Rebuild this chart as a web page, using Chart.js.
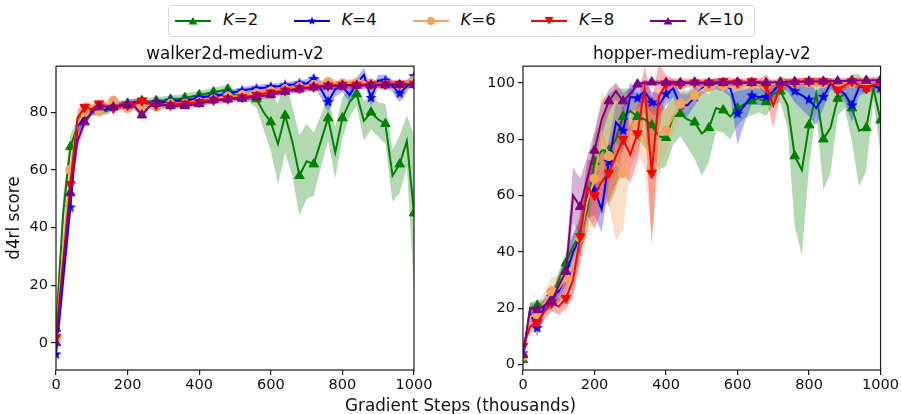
<!DOCTYPE html>
<html>
<head>
<meta charset="utf-8">
<script src="https://cdn.jsdelivr.net/npm/chart.js@4.4.0/dist/chart.umd.min.js"></script>
<style>
body { margin: 0; background: #fff; font-family: "DejaVu Sans", sans-serif; color: #111; }
#wrap { position: relative; width: 901px; height: 414px; overflow: hidden; }
canvas { position: absolute; top: 0; }
#c1 { left: 0; }
#c2 { left: 450px; }
#legend { position: absolute; left: 168px; top: 5px; width: 587px; height: 32px; border: 1px solid #d6d6d6; border-radius: 3px; box-sizing: border-box; background: #fff; }
.item { position: absolute; top: 0; height: 30px; }
.item svg { position: absolute; left: 0; top: 7.7px; }
.item span { position: absolute; left: 48px; top: 6px; font-size: 16.5px; line-height: 16.5px; white-space: nowrap; }
#xlabel { position: absolute; left: 0; width: 921px; top: 397px; text-align: center; font-size: 16.8px; line-height: 16.8px; }
</style>
</head>
<body>
<div id="wrap">
  <canvas id="c1" width="450" height="414"></canvas>
  <canvas id="c2" width="451" height="414"></canvas>
  <div id="legend"></div>
  <div id="xlabel">Gradient Steps (thousands)</div>
</div>
<script>
// gradient steps (thousands)
var steps = [0,20,40,60,80,100,120,140,160,180,200,220,240,260,280,300,320,340,360,380,400,420,440,460,480,500,520,540,560,580,600,620,640,660,680,700,720,740,760,780,800,820,840,860,880,900,920,940,960,980,1000];
var seriesNames = ['K=2', 'K=4', 'K=6', 'K=8', 'K=10'];
var xTicks = [0, 200, 400, 600, 800, 1000];
var yTicks = [0, 20, 40, 60, 80, 100];

// walker2d-medium-v2 : mean and spread
var wK2 = [5,45,68,75,79,80.5,81,80.5,82,82.5,83,83,84,83.5,84,84,84.5,84.5,85,85.5,86,86.5,87,87.5,88,86,85.5,85.5,84.6,80,76.6,69,78.9,70,58,63,62,70,78,66,78,83.5,86.3,77,80,77.5,76,58,62,70,45];
var wK2sd = [3,6,4,3,2,1.5,1.5,1.5,1.5,1.5,1.5,1.5,1.5,1.5,1.5,1.5,1.5,1.5,1.5,1.5,1.5,1.5,1.5,1.5,1.5,1.5,2,2,3,6,10,14,13,12,14,13,11,9,8,9,7,5,4,7,6,6,7,9,10,9,27];
var wK4 = [-4,22,47,75,79,80,80.5,81,82,82.5,83,83.5,83.5,83,83.5,83.5,84,84,84,84.5,85,85.5,85.5,86,86.5,87,87.5,88,88.2,88.5,88.8,89,89.3,89.6,90,90,91.5,88,83.6,88,89,86,90,93,85,91,91,89,86.5,89,92.5];
var wK4sd = [3,5,4,3,2,1.2,1.2,1.2,1.2,1.2,1.2,1.2,1.2,1.2,1.2,1.2,1.2,1.2,1.2,1.2,1.2,1.2,1.2,1.2,1.2,1.2,1.2,1.2,1.2,1.2,1.2,1.2,1.2,1.2,1.2,1.5,2,3,3.5,2.5,2,2.5,2,2.5,3,2,2,2,3,2,1.5];
var wK6 = [2,33,60,76,80,82,80.5,82,84,82,81.5,82,81.5,82.5,82,82.5,83,82.5,83,83.5,83.5,84,84.5,85,85.5,85.5,86,86.3,86.6,87,87.3,87.6,88,88.3,88.7,89,89.5,90,90.5,90.3,90,90.5,90.2,90.5,90,90,89.5,89.8,89.5,90,91];
var wK6sd = [3,5,4,3,2,2,2.5,2,2,2,1.5,1.5,1.5,1.2,1.2,1.2,1.2,1.2,1.2,1.2,1.2,1.2,1.2,1.2,1.2,1.2,1.2,1.2,1.2,1.2,1.2,1.2,1.2,1.2,1.2,1.2,1.2,1.2,1.2,1.2,1.2,1.2,1.2,1.2,1.2,1.2,1.2,1.2,1.2,1.2,1.2];
var wK8 = [2,28,55,78,81.8,81,83,82,81.5,82,82.5,83,84,83,82.5,82.5,82.5,82.8,83,83.3,83.5,84,84.3,84.5,84.7,85,85.2,85.5,86,86.5,86.8,87.2,87.5,88,88.3,88.6,88.8,89,89.2,89.3,89.4,89.5,89.5,89.6,89.6,89.7,89.7,89.8,89.8,89.8,89.8];
var wK8sd = [3,5,4,3,2,1.5,1.2,1.2,1.2,1.2,1.2,1.2,1.2,1.2,1.2,1.2,1.2,1.2,1.2,1.2,1.2,1.2,1.2,1.2,1.2,1.2,1.2,1.2,1.2,1.2,1.2,1.2,1.2,1.2,1.2,1.5,1.5,1.5,1.5,1.5,1.5,1.5,1.5,1.5,1.5,1.5,1.5,1.5,1.5,1.5,1.5];
var wK10 = [0,26,52,70,76.6,80,81.8,82,81.8,82.5,82.4,82,79,82,83,82.5,82.2,82.3,82.2,82.6,83,83.6,84.2,84.3,84.5,84.7,84.8,85.1,85.4,85.7,86,86.6,87.2,87.6,88,88.3,88.7,88.9,89,89.2,89.3,89.3,89.3,89.3,89.4,89.4,89.4,89.5,89.5,89.5,89.5];
var wK10sd = [3,5,4,3,2,1,1,1,1,1,1,1,1.5,1,1,1,1,1,1,1,1,1,1,1,1,1,1,1,1,1,1,1,1,1,1,1,1,1,1,1,1,1,1,1,1,1,1,1,1,1,1];

// hopper-medium-replay-v2 : mean and spread
var hK2 = [1.7,20,21,21,22,30,36,42,46,55,72,76,76,80,88,90,88,87,85,81,80.5,88,89,87,86,82,84,91,90.3,88,91,92.5,93.5,94.5,93.2,96,97,92,74,69,85,96,80,84,94.4,96,91,83,84,98,86.7];
var hK2sd = [2,2,2,2,2,3,4,5,6,8,10,10,20,18,10,8,8,10,10,12,10,10,8,10,13,15,12,8,8,8,6,5,5,5,5,4,4,8,25,30,15,6,18,16,6,5,12,20,15,4,12];
var hK4 = [4,18,13,21,24,26,32,40,45,60,62,55,72,86,83,95,94.5,97,93,92,96,98,92,92,95,98,99,99.7,99,98,89,92,95.5,95,95,97,100,99,97,95.5,94,91,95,99.7,98,96,92,98.5,98.5,99,98];
var hK4sd = [2,3,3,3,3,4,5,6,6,8,9,8,8,7,8,5,4,4,4,4,4,3,4,4,3,2,2,2,2,3,11,6,3,3,3,3,2,2,4,5,6,6,4,2,2,3,6,3,2,2,2];
var hK6 = [3,17,18,22,26,27,31,35,45,58,66,82,74,72,68,82,85,80,70,82,83,88,92.6,93.2,95.5,97.5,98.5,99,99,98.5,99,99,99.5,99.5,99,99.5,100,100,100,100,100,100,100,100,100,100,100,100.5,100.5,100.5,100.5];
var hK6sd = [2,3,3,4,5,5,6,8,10,12,15,15,18,28,20,12,10,10,25,12,8,6,4,3,2.5,2,1.5,1.5,1.5,1.5,1.5,1.5,1.5,1.5,1.5,1.5,1.5,1.5,1.5,1.5,1.5,1.5,1.5,1.5,1.5,1.5,1.5,1.5,1.5,1.5,1.5];
var hK8 = [6.5,13.5,15,19,22,20.6,23.6,30,45.5,63,60,65,68,74,80,74.5,82,98,68,95,99.7,99.5,99.5,100,100,100,100,100,100.5,100.5,100,100,100.5,100,99,92,99,100,100,100.5,100.5,100.5,100.5,100,97.5,99,100.5,99,98,99,100];
var hK8sd = [2,2,3,3,3,3,4,6,8,10,12,10,10,10,12,10,10,8,26,12,3,2,2,1.5,1.5,1.5,1.5,1.5,1.5,1.5,1.5,1.5,1.5,1.5,4,8,3,1.5,1.5,1.5,1.5,1.5,1.5,1.5,2,1.5,1.5,1.5,2,1.5,1.5];
var hK10 = [3.5,20,19.4,21,22.4,28,33,60,56,66,76,87,93.5,97,93.5,96,99.5,100,100.2,100,100,100.2,100,100,100.2,100,100,100.2,100,100,100.2,100,100,100.2,100,100.2,100.2,100.4,100.4,100.4,100.5,100.5,100.5,100.6,100.6,100.6,100.7,100.8,100.8,100.9,101];
var hK10sd = [2,2,2,2,3,4,5,10,10,8,7,6,4,3,3,2,1,1,1,1,1,1,1,1,1,1,1,1,1,1,1,1,1,1,1,1,1,1,1,1,1,1,1,1,1,1,1,1,1,1,1];

var lineColors = ['green', 'blue', '#f4a460', 'red', 'purple'];
var bandColors = ['rgba(0,128,0,0.3)', 'rgba(0,0,255,0.3)', 'rgba(244,164,96,0.35)', 'rgba(255,0,0,0.3)', 'rgba(128,0,128,0.3)'];
var FONT = '"DejaVu Sans", sans-serif';
var INK = '#111';

// filled five point star used as the K=4 marker
function starMarker(color, r) {
    var c = document.createElement('canvas');
    var s = Math.ceil(r * 2 + 2);
    c.width = s; c.height = s;
    var g = c.getContext('2d');
    g.fillStyle = color;
    g.beginPath();
    for (var k = 0; k < 10; k++) {
        var rr = k % 2 === 0 ? r : r * 0.42;
        var a = -Math.PI / 2 + k * Math.PI / 5;
        var px = s / 2 + rr * Math.cos(a), py = s / 2 + rr * Math.sin(a);
        if (k === 0) g.moveTo(px, py); else g.lineTo(px, py);
    }
    g.closePath();
    g.fill();
    return c;
}
var star = starMarker('blue', 6);
var markers = [
    { style: 'triangle', rot: 0, r: 5.5 },
    { style: star, rot: 0, r: 5 },
    { style: 'circle', rot: 0, r: 4.6 },
    { style: 'triangle', rot: 180, r: 5.5 },
    { style: 'triangle', rot: 0, r: 5.5 }
];

function pts(vals) {
    return vals.map(function (v, i) { return { x: steps[i], y: v }; });
}

function buildSets(means, sds) {
    var sets = [];
    // bands first (drawn under all lines)
    means.forEach(function (m, s) {
        sets.push({ data: pts(m.map(function (v, i) { return v + sds[s][i]; })), borderWidth: 0, pointRadius: 0, fill: '+1', backgroundColor: bandColors[s], order: 20 - s });
        sets.push({ data: pts(m.map(function (v, i) { return v - sds[s][i]; })), borderWidth: 0, pointRadius: 0, fill: false, order: 20 - s });
    });
    means.forEach(function (m, s) {
        var mk = markers[s];
        sets.push({
            label: seriesNames[s],
            data: pts(m),
            borderColor: lineColors[s],
            backgroundColor: lineColors[s],
            borderWidth: 2,
            fill: false,
            pointStyle: mk.style,
            pointRotation: mk.rot,
            pointRadius: function (ctx) { return ctx.dataIndex % 2 === 0 ? mk.r : 0; },
            pointBorderWidth: 1,
            pointBorderColor: lineColors[s],
            pointBackgroundColor: lineColors[s],
            order: 10 - s
        });
    });
    return sets;
}

var framePlugin = {
    id: 'frame',
    afterDatasetsDraw: function (chart) {
        var a = chart.chartArea, ctx = chart.ctx;
        ctx.save();
        ctx.strokeStyle = '#1a1a1a';
        ctx.lineWidth = 1.2;
        ctx.strokeRect(a.left, a.top, a.right - a.left, a.bottom - a.top);
        ctx.restore();
    }
};

function makeChart(id, title, means, sds, yMin, yMax, yWidth, padRight, yTitle) {
    return new Chart(document.getElementById(id), {
        type: 'line',
        data: { datasets: buildSets(means, sds) },
        plugins: [framePlugin],
        options: {
            responsive: false,
            animation: false,
            events: [],
            clip: 0,
            layout: { padding: { left: 0, right: padRight, top: 44, bottom: 14 } },
            plugins: {
                legend: { display: false },
                tooltip: { enabled: false },
                title: { display: true, text: title, fullSize: false, color: INK, font: { family: FONT, size: 16.8, weight: 'normal' }, padding: { top: 1, bottom: 1 } }
            },
            scales: {
                x: {
                    type: 'linear', min: 0, max: 1000,
                    afterBuildTicks: function (s) { s.ticks = xTicks.map(function (v) { return { value: v }; }); },
                    afterFit: function (s) { s.height = 30; },
                    grid: { drawOnChartArea: false, drawTicks: true, tickLength: 5, color: '#1a1a1a', lineWidth: 1.2 },
                    border: { display: false },
                    ticks: { color: INK, font: { family: FONT, size: 14.5 }, padding: 2, maxRotation: 0, callback: function (v) { return String(v); } }
                },
                y: {
                    type: 'linear', min: yMin, max: yMax,
                    afterBuildTicks: function (s) { s.ticks = yTicks.filter(function (v) { return v >= yMin && v <= yMax; }).map(function (v) { return { value: v }; }); },
                    afterFit: function (s) { s.width = yWidth; },
                    grid: { drawOnChartArea: false, drawTicks: true, tickLength: 5, color: '#1a1a1a', lineWidth: 1.2 },
                    border: { display: false },
                    ticks: { color: INK, font: { family: FONT, size: 14.5 }, padding: 3, callback: function (v) { return String(v); } },
                    title: { display: !!yTitle, text: yTitle, color: INK, font: { family: FONT, size: 16.8 }, padding: { top: 5, bottom: 0 } }
                }
            }
        }
    });
}

makeChart('c1', 'walker2d-medium-v2', [wK2, wK4, wK6, wK8, wK10], [wK2sd, wK4sd, wK6sd, wK8sd, wK10sd], -9.4, 96, 56, 36, 'd4rl score');
makeChart('c2', 'hopper-medium-replay-v2', [hK2, hK4, hK6, hK8, hK10], [hK2sd, hK4sd, hK6sd, hK8sd, hK10sd], -1.9, 105.9, 73, 19, '');

// shared legend across both panels
var legend = document.getElementById('legend');
var itemLeft = [6, 124.5, 243.5, 362, 481];
seriesNames.forEach(function (name, s) {
    var c = lineColors[s];
    var m;
    if (s === 1) {
        var p = [];
        for (var k = 0; k < 10; k++) {
            var rr = k % 2 === 0 ? 4.5 : 1.9;
            var a = -Math.PI / 2 + k * Math.PI / 5;
            p.push((18 + rr * Math.cos(a)).toFixed(2) + ',' + (7 + rr * Math.sin(a)).toFixed(2));
        }
        m = '<polygon points="' + p.join(' ') + '" fill="' + c + '"/>';
    } else if (s === 2) {
        m = '<circle cx="18" cy="7" r="4" fill="' + c + '"/>';
    } else if (s === 3) {
        m = '<polygon points="13.5,3 22.5,3 18,10.5" fill="' + c + '"/>';
    } else {
        m = '<polygon points="18,3 22.5,10.5 13.5,10.5" fill="' + c + '"/>';
    }
    var div = document.createElement('div');
    div.className = 'item';
    div.style.left = itemLeft[s] + 'px';
    div.innerHTML = '<svg width="36" height="14"><line x1="0" y1="7" x2="36" y2="7" stroke="' + c + '" stroke-width="2"/>' + m + '</svg>' +
        '<span><i>K</i>=' + name.split('=')[1] + '</span>';
    legend.appendChild(div);
});
</script>
</body>
</html>
